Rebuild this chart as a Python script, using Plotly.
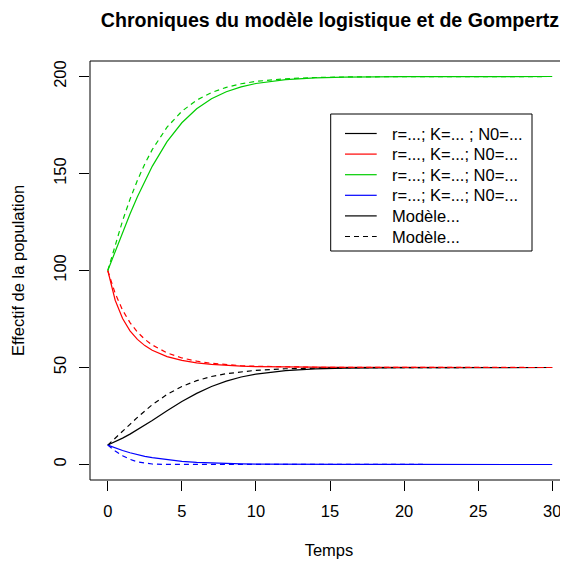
import plotly.graph_objects as go

# Time points (read along the x axis)
temps = [0, 0.5, 1, 1.5, 2, 2.5, 3, 4, 5, 6, 7, 8, 9, 10, 12, 14, 16, 20, 25, 30]

# Scenario 1 (black): N0=10, K=50
noir_logistique = [10, 11.70, 13.58, 15.65, 17.88, 20.23, 22.68, 27.66, 32.44, 36.66,
                   40.22, 42.99, 45.08, 46.59, 48.41, 49.27, 49.67, 49.93, 49.99, 50.0]
noir_gompertz = [10, 13.39, 17.00, 20.67, 24.26, 27.66, 30.79, 36.13, 40.22, 43.21,
                 45.34, 46.82, 47.85, 48.55, 49.34, 49.70, 49.87, 49.97, 50.0, 50.0]

# Scenario 2 (red): N0=100, K=50
rouge_logistique = [100, 84.66, 75.21, 68.91, 64.49, 61.27, 58.87, 55.61, 53.63, 52.38,
                    51.57, 51.04, 50.69, 50.46, 50.21, 50.09, 50.04, 50.01, 50.0, 50.0]
rouge_gompertz = [100, 88.19, 79.57, 73.14, 68.27, 64.52, 61.61, 57.51, 54.92, 53.24,
                  52.15, 51.44, 50.95, 50.64, 50.29, 50.13, 50.06, 50.01, 50.0, 50.0]

# Scenario 3 (green): N0=100, K=200
vert_logistique = [100, 109.97, 119.74, 129.13, 138.00, 146.21, 153.70, 166.40, 176.16, 183.37,
                   188.54, 192.16, 194.69, 196.41, 198.37, 199.26, 199.67, 199.93, 199.99, 200.0]
vert_gompertz = [100, 113.40, 125.67, 136.71, 146.48, 154.98, 162.31, 173.88, 182.09, 187.81,
                 191.75, 194.42, 196.26, 197.48, 198.86, 199.49, 199.77, 199.95, 200.0, 200.0]

# Scenario 4 (blue): N0=10, decreasing to 0
bleu_logistique = [10, 8.50, 7.18, 6.03, 5.05, 4.21, 3.50, 2.40, 1.64, 1.11,
                   0.75, 0.50, 0.34, 0.23, 0.10, 0.046, 0.021, 0.004, 0.0006, 0.0]
bleu_gompertz = [10, 7.00, 4.53, 2.66, 1.39, 0.63, 0.24, 0.017, 0.0, 0.0,
                 0.0, 0.0, 0.0, 0.0, 0.0, 0.0, 0.0, 0.0, 0.0, 0.0]

legende = ["r=...; K=... ; N0=...", "r=..., K=...; N0=...",
           "r=...; K=...; N0=...", "r=...; K=...; N0=...",
           "Modèle...", "Modèle..."]

couleurs = ["#000000", "#FF0000", "#00CD00", "#0000FF"]
solides = [noir_logistique, rouge_logistique, vert_logistique, bleu_logistique]
tirets = [noir_gompertz, rouge_gompertz, vert_gompertz, bleu_gompertz]

# ---- styling / layout constants (pixels in figure coordinates) ----
W, H = 560, 555
ML, MR, MT, MB = 82, 0, 53, 83
PW, PH = W - ML - MR, H - MT - MB
LW = 1.2
DASH = "5px,4px"
FONT = "Liberation Sans, Arial, Helvetica, sans-serif"
FS = 16.5


def px2x(px):
    return (px - ML) / PW


def py2y(py):
    return (H - MB - py) / PH


fig = go.Figure()
for c, y in zip(couleurs, solides):
    fig.add_trace(go.Scatter(x=temps, y=y, mode="lines", showlegend=False,
                             line=dict(color=c, width=LW)))
for c, y in zip(couleurs, tirets):
    fig.add_trace(go.Scatter(x=temps, y=y, mode="lines", showlegend=False,
                             line=dict(color=c, width=LW, dash=DASH)))

# legend box drawn in R style
shapes = [dict(type="rect", xref="paper", yref="paper", x0=0, x1=1.01, y0=0, y1=1,
               line=dict(color="#000000", width=1), layer="above"),
          dict(type="rect", xref="paper", yref="paper",
               x0=px2x(322.7), x1=px2x(524), y0=py2y(243), y1=py2y(106),
               line=dict(color="#000000", width=1), fillcolor="white", layer="above")]
annotations = []
leg_cols = couleurs + ["#000000", "#000000"]
leg_dash = ["solid"] * 5 + [DASH]
for i, (txt, c, d) in enumerate(zip(legende, leg_cols, leg_dash)):
    ry = 125.5 + 20.6 * i
    shapes.append(dict(type="line", xref="paper", yref="paper",
                       x0=px2x(337), x1=px2x(368.7), y0=py2y(ry), y1=py2y(ry),
                       line=dict(color=c, width=LW, dash=d), layer="above"))
    annotations.append(dict(text=txt, xref="paper", yref="paper", x=px2x(382), y=py2y(ry),
                            xanchor="left", yanchor="middle", showarrow=False,
                            font=dict(size=FS, family=FONT, color="#000000")))

fig.update_layout(
    width=W, height=H,
    margin=dict(l=ML, r=MR, t=MT, b=MB),
    paper_bgcolor="white", plot_bgcolor="white",
    font=dict(family=FONT, size=FS, color="#000000"),
    title=dict(text="<b>Chroniques du modèle logistique et de Gompertz</b>",
               x=322 / W, xanchor="center", y=1 - 12 / H, yanchor="middle",
               font=dict(size=19.6, family=FONT, color="#000000")),
    showlegend=False,
    xaxis=dict(range=[-1.2, 31.065], tickvals=[0, 5, 10, 15, 20, 25, 30],
               ticks="outside", ticklen=10, tickcolor="#000000", tickwidth=1,
               showgrid=False, zeroline=False, showline=False,
               ticklabelstandoff=6,
               title=dict(text="Temps", standoff=25, font=dict(size=FS))),
    yaxis=dict(range=[-8, 208], tickvals=[0, 50, 100, 150, 200],
               ticks="outside", ticklen=10, tickcolor="#000000", tickwidth=1,
               tickangle=-90, showgrid=False, zeroline=False, showline=False,
               ticklabelstandoff=6,
               title=dict(text="Effectif de la population", standoff=22, font=dict(size=FS))),
    shapes=shapes,
    annotations=annotations,
)

fig.write_html("out.html")
